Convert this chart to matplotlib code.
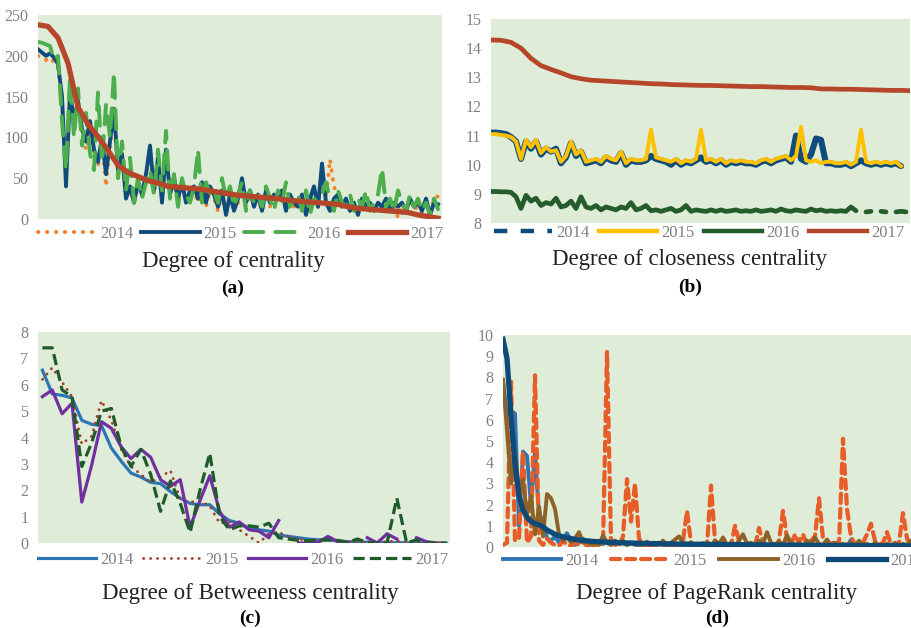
import numpy as np
import matplotlib
matplotlib.use("Agg")
from matplotlib import pyplot as plt
from matplotlib.lines import Line2D

plt.rcParams['font.family'] = ['Liberation Serif', 'DejaVu Serif']

years = ["2014", "2015", "2016", "2017"]
bg = "#dfecd8"
grey = "#808080"

# ---- (a) degree of centrality ----
a_2014 = [200, 198, 195, 198, 192, 185, 145, 55, 150, 115,
          140, 105, 85, 110, 80, 65, 95, 40, 90, 125,
          55, 75, 30, 35, 20, 40, 28, 50, 85, 30,
          70, 25, 80, 35, 45, 20, 40, 25, 30, 35,
          20, 40, 15, 35, 25, 10, 30, 10, 25, 15,
          20, 45, 15, 30, 20, 25, 10, 30, 15, 25,
          20, 30, 10, 25, 15, 20, 25, 10, 20, 35,
          15, 60, 25, 73, 40, 25, 15, 20, 10, 15,
          8, 20, 12, 18, 10, 15, 12, 20, 8, 15,
          2, 18, 10, 22, 12, 15, 8, 20, 5, 25, 28]
a_2015 = [208, 204, 200, 203, 198, 190, 150, 40, 155, 120,
          145, 110, 95, 120, 85, 70, 100, 55, 95, 135,
          60, 80, 25, 40, 20, 45, 30, 55, 90, 35,
          75, 20, 85, 30, 50, 25, 45, 20, 35, 40,
          25, 45, 20, 40, 30, 15, 35, 5, 30, 10,
          25, 50, 20, 35, 15, 30, 10, 35, 20, 30,
          25, 35, 10, 30, 20, 15, 30, 5, 25, 40,
          15, 68, 20, 10, 25, 30, 15, 25, 10, 20,
          5, 25, 15, 20, 10, 20, 15, 25, 10, 20,
          15, 20, 10, 25, 15, 20, 10, 25, 5, 20, 18]
a_2016 = [217, 216, 214, 212, 195, 200, 120, 60, 175, 100,
          160, 90, 130, 80, 60, 155, 70, 140, 100, 180,
          50, 95, 35, 75, 20, 50, 25, 45, 60, 30,
          85, 35, 108, 25, 55, 15, 50, 30, 20, 40,
          85, 20, 45, 30, 35, 20, 50, 25, 40, 15,
          30, 45, 10, 35, 20, 30, 15, 40, 25, 10,
          35, 20, 45, 15, 25, 30, 10, 35, 5, 25,
          20, 30, 45, 25, 10, 35, 20, 15, 30, 10,
          25, 15, 35, 10, 20, 30, 62, 15, 25, 10,
          35, 20, 10, 30, 15, 25, 10, 20, 5, 25, 12]
a_2017 = [238, 236, 222, 191, 137, 116, 101, 84, 66, 57,
          52, 47, 44, 40, 39, 38, 37, 35, 33, 31,
          29, 28, 27, 26, 25, 23, 22, 21, 20, 19,
          18, 15, 13, 12, 11, 10, 9, 8, 5, 3, 1]

# ---- (b) closeness centrality ----
b_2014 = [11.1, 11.1, 11.08, 11.05, 10.95, 10.8, 10.2, 10.8, 10.55, 10.8,
          10.35, 10.55, 10.45, 10.55, 10.05, 10.25, 10.75, 10.3, 10.45, 10.05,
          10.1, 10.15, 10.05, 10.25, 10.15, 10.1, 10.4, 10.0, 10.15, 10.1,
          10.1, 10.15, 10.3, 10.2, 10.15, 10.1, 10.0, 10.15, 10.0, 10.1,
          10.05, 10.15, 10.25, 10.1, 10.15, 10.05, 10.15, 10.0, 10.1, 10.05,
          10.1, 10.05, 10.05, 10.0, 10.1, 10.15, 10.05, 10.15, 10.2, 10.25,
          10.1, 11.0, 10.2, 10.1, 10.35, 10.9, 10.85, 10.05, 10.05, 10.0,
          10.0, 10.05, 9.95, 10.05, 10.15, 10.05, 10.0, 10.05, 10.0, 10.05,
          10.0, 10.05, 9.95]
b_2015 = [11.05, 11.05, 11.02, 11.0, 10.95, 10.8, 10.2, 10.85, 10.6, 10.85,
          10.4, 10.6, 10.45, 10.5, 10.1, 10.3, 10.8, 10.35, 10.5, 10.1,
          10.15, 10.2, 10.1, 10.3, 10.2, 10.15, 10.45, 10.05, 10.2, 10.15,
          10.15, 10.2, 11.2, 10.25, 10.2, 10.15, 10.1, 10.2, 10.05, 10.15,
          10.1, 10.2, 11.2, 10.15, 10.2, 10.1, 10.2, 10.05, 10.15, 10.1,
          10.15, 10.1, 10.1, 10.05, 10.15, 10.2, 10.1, 10.2, 10.25, 10.3,
          10.15, 10.3, 11.3, 10.15, 10.1, 10.15, 10.05, 10.1, 10.1, 10.05,
          10.05, 10.1, 10.0, 10.1, 11.2, 10.1, 10.05, 10.1, 10.05, 10.1,
          10.05, 10.1, 9.95]
b_2016 = [9.08, 9.08, 9.07, 9.07, 9.05, 8.9, 8.5, 8.95, 8.75, 8.85,
          8.6, 8.7, 8.65, 8.85, 8.55, 8.6, 8.75, 8.5, 8.9, 8.55,
          8.5, 8.6, 8.45, 8.55, 8.5, 8.45, 8.55, 8.5, 8.7, 8.45,
          8.5, 8.6, 8.42, 8.45, 8.4, 8.45, 8.5, 8.4, 8.45, 8.6,
          8.4, 8.45, 8.42, 8.4, 8.45, 8.4, 8.45, 8.4, 8.42, 8.45,
          8.4, 8.42, 8.4, 8.45, 8.4, 8.42, 8.45, 8.4, 8.48, 8.42,
          8.4, 8.45, 8.42, 8.4, 8.48, 8.42, 8.45, 8.4, 8.42, 8.4,
          8.42, 8.4, 8.55, 8.42, np.nan, 8.38, 8.4, np.nan, 8.4, 8.38,
          np.nan, 8.38, 8.4, 8.38]
b_2017 = [14.28, 14.27, 14.2, 14.0, 13.65, 13.4, 13.27, 13.15, 13.02, 12.95,
          12.9, 12.88, 12.86, 12.84, 12.82, 12.8, 12.78, 12.77, 12.75, 12.74,
          12.73, 12.72, 12.72, 12.71, 12.7, 12.69, 12.68, 12.68, 12.67, 12.66,
          12.65, 12.65, 12.64, 12.6, 12.6, 12.59, 12.59, 12.58, 12.57, 12.56,
          12.55, 12.55, 12.54]

# ---- (c) betweeness centrality ----
c_2014 = [6.55, 5.65, 5.6, 5.5, 4.65, 4.5, 4.45, 3.6, 3.1, 2.65,
          2.5, 2.3, 2.25, 1.95, 1.7, 1.5, 1.45, 1.45, 1.1, 0.85,
          0.75, 0.55, 0.5, 0.45, 0.3, 0.25, 0.2, 0.15, 0.12, 0.12,
          0.08, 0.05, 0.04, 0.03, 0.02, 0.02, 0.01, 0.01, 0.01, 0.0,
          0.0, 0.0]
c_2015 = [6.2, 6.65, 6.1, 5.55, 3.75, 4.05, 5.4, 4.65, 3.55, 2.9,
          2.6, 2.3, 2.5, 2.75, 1.65, 1.55, 1.6, 1.4, 0.75, 0.8,
          0.5, 0.25, 0.0, 0.35, 0.4, 0.25, 0.15, 0.1, 0.12, 0.15,
          0.1, 0.05, 0.05, 0.03, 0.02, 0.05, 0.08, 0.03, 0.02, 0.05,
          0.02, 0.0]
c_2016 = [5.55, 5.8, 4.9, 5.3, 1.55, 2.95, 4.6, 4.35, 3.65, 3.2,
          3.55, 3.25, 2.4, 2.15, 2.4, 0.6, 1.6, 2.55, 1.2, 0.6,
          0.8, 0.5, 0.45, 0.2, 0.85, np.nan, 0.0, 0.0, 0.02, 0.25,
          0.05, 0.02, np.nan, 0.2, 0.0, 0.35, 0.15, np.nan, 0.2, 0.05,
          0.0, np.nan]
c_2017 = [7.4, 7.4, 5.8, 5.55, 2.9, 3.8, 5.0, 5.1, 3.65, 2.9,
          3.55, 2.6, 1.2, 2.35, 1.5, 0.4, 2.0, 3.4, 1.0, 0.5,
          0.65, 0.65, 0.6, 0.75, 0.2, 0.15, 0.1, 0.08, 0.1, 0.12,
          0.1, 0.02, 0.15, 0.02, 0.0, 0.0, 1.7, 0.0, 0.12, 0.0,
          0.0, 0.0]

# ---- (d) PageRank centrality ----
d_2014 = [7.8, 6.2, 6.4, 6.3, 1.0, 4.5, 4.3, 2.0, 4.4, 1.5,
          1.3, 0.4, 0.3, 0.5, 0.2, 0.4, 0.65, 0.3, 0.1, 0.2,
          0.4, 0.15, 0.3, 0.1, 0.2, 0.15, 0.25, 0.1, 0.3, 0.15,
          0.2, 0.1, 0.2, 0.15, 0.05, 0.2, 0.1, 0.15, 0.05, 0.2,
          0.1, 0.0, 0.1, 0.15, 0.05, 0.1, 0.0, 0.1, 0.05, 0.1,
          0.0, 0.1, 0.05, 0.1, 0.0, 0.08, 0.05, 0.1, 0.0, 0.05,
          0.1, 0.0, 0.05, 0.1, 0.02, 0.08, 0.0, 0.05, 0.1, 0.0,
          0.05, 0.1, 0.02, 0.06, 0.0, 0.08, 0.03, 0.1, 0.0, 0.05,
          0.08, 0.0, 0.05, 0.1, 0.02, 0.06, 0.0, 0.35, 0.1, 0.05,
          0.02, 0.06, 0.0, 0.05, 0.08, 0.0, 0.04, 0.06, 0.0, 0.05,
          0.02, 0.06, 0.0, 0.03]
d_2015 = [0.1, 0.2, 7.8, 0.3, 0.4, 4.5, 0.2, 0.5, 8.1, 0.3,
          0.1, 0.4, 0.2, 0.1, 0.05, 0.3, 0.1, 0.05, 0.2, 0.1,
          0.3, 0.05, 0.1, 0.05, 0.2, 0.1, 9.2, 0.3, 0.1, 0.05,
          0.5, 3.2, 1.2, 3.0, 0.4, 0.1, 0.05, 0.1, 0.05, 0.2,
          0.1, 0.05, 0.1, 0.05, 0.1, 0.3, 1.7, 0.2, 0.05, 0.1,
          0.2, 0.05, 2.9, 0.3, 0.1, 0.05, 0.1, 0.05, 1.0, 0.3,
          0.05, 0.2, 0.1, 0.05, 0.9, 0.2, 0.05, 0.1, 0.05, 0.3,
          1.7, 0.4, 0.1, 0.6, 0.2, 0.6, 0.1, 0.3, 0.5, 2.3,
          0.4, 0.2, 0.1, 0.3, 0.1, 5.1, 1.8, 0.5, 0.1, 0.05,
          0.2, 0.6, 1.1, 0.3, 0.1, 0.2, 0.7, 0.1, 0.05, 0.2,
          1.6, 0.4, 0.1, 0.05]
d_2016 = [7.9, 5.5, 3.0, 4.5, 2.5, 3.2, 1.5, 2.4, 0.6, 1.9,
          0.5, 2.5, 2.3, 1.8, 0.6, 0.3, 0.5, 0.2, 0.4, 0.7,
          0.2, 0.3, 0.1, 0.2, 0.1, 0.55, 0.2, 0.1, 0.3, 0.15,
          0.3, 0.1, 0.2, 0.1, 0.15, 0.05, 0.25, 0.1, 0.2, 0.1,
          0.3, 0.1, 0.2, 0.35, 0.5, 0.2, 0.1, 0.2, 0.05, 0.15,
          0.1, 0.2, 0.05, 0.3, 0.15, 0.45, 0.1, 0.2, 0.05, 0.3,
          0.6, 0.15, 0.2, 0.1, 0.3, 0.15, 0.7, 0.2, 0.1, 0.25,
          0.1, 0.55, 0.2, 0.1, 0.2, 0.05, 0.3, 0.1, 0.45, 0.15,
          0.1, 0.35, 0.1, 0.2, 0.05, 0.15, 0.1, 0.2, 0.05, 0.3,
          0.1, 0.15, 0.05, 0.2, 0.1, 0.05, 0.15, 0.1, 0.2, 0.05,
          0.15, 0.1, 0.3, 0.1]
d_2017 = [9.8, 8.9, 6.2, 3.9, 2.4, 1.75, 1.4, 1.2, 1.1, 1.05,
          0.95, 0.8, 0.7, 0.6, 0.53, 0.48, 0.44, 0.4, 0.36, 0.33,
          0.31, 0.29, 0.27, 0.26, 0.25, 0.24, 0.23, 0.22, 0.21, 0.2,
          0.2, 0.19, 0.19, 0.18, 0.18, 0.17, 0.17, 0.16, 0.16, 0.16,
          0.15, 0.15, 0.15, 0.14, 0.14, 0.14, 0.14, 0.13, 0.13, 0.13,
          0.13, 0.12, 0.12, 0.12, 0.12, 0.12, 0.11, 0.11, 0.11, 0.11,
          0.11, 0.1, 0.1, 0.1, 0.1, 0.1, 0.1, 0.09, 0.09, 0.09,
          0.09, 0.09, 0.09, 0.08, 0.08, 0.08, 0.08, 0.08, 0.08, 0.08,
          0.07, 0.07, 0.07, 0.07, 0.07, 0.07, 0.07, 0.07, 0.07, 0.07,
          0.06, 0.06, 0.06, 0.06, 0.06, 0.06, 0.06, 0.06, 0.06, 0.06,
          0.06, 0.06, 0.06, 0.06]

W, H = 911, 628
fig = plt.figure(figsize=(W / 100, H / 100), dpi=100)


def panel(left, top, right, bottom):
    ax = fig.add_axes([left / W, 1 - bottom / H, (right - left) / W, (bottom - top) / H])
    ax.set_facecolor(bg)
    for s in ax.spines.values():
        s.set_visible(False)
    ax.set_xticks([])
    ax.tick_params(axis='y', length=0, pad=7, labelsize=11.5, labelcolor=grey)
    return ax


def legend(ax, x, y, handles=None, colsp=0.45):
    kw = dict(loc='center left', bbox_to_anchor=(x / W, 1 - y / H), bbox_transform=fig.transFigure,
              ncol=4, frameon=False, fontsize=12, labelcolor=grey, handlelength=3.5,
              handletextpad=0.25, columnspacing=colsp, borderpad=0, borderaxespad=0)
    if handles is not None:
        ax.legend(handles=handles, **kw)
    else:
        ax.legend(**kw)


def captions(title, tag, x, y1, y2):
    fig.text(x / W, 1 - y1 / H, title, ha='center', va='center', fontsize=16.5, color='#222222')
    fig.text(x / W, 1 - y2 / H, tag, ha='center', va='center', fontsize=14, fontweight='bold')


# (a)
ax = panel(38, 15, 442, 219)
ax.plot(np.arange(len(a_2014)), a_2014, color='#f47f2f', lw=2.8, ls=(0, (0.1, 2.2)),
        dash_capstyle='round', label=years[0])
ax.plot(np.arange(len(a_2015)), a_2015, color='#0f4c7c', lw=2.8, label=years[1])
ax.plot(np.arange(len(a_2016)), a_2016, color='#4cae4c', lw=2.8, ls=(0, (5, 3)),
        dash_capstyle='round', label=years[2])
ax.plot(np.linspace(0, 100, len(a_2017)), a_2017, color='#b5462a', lw=3.8, label=years[3])
ax.set_xlim(0, 101)
ax.set_ylim(0, 250)
ax.set_yticks(range(0, 251, 50))
legend(ax, 38, 234)
captions("Degree of centrality", "(a)", 233, 262, 288)

# (b)
ax = panel(491, 19, 910, 223)
b_cols = ['#0f4c7c', '#ffc000', '#245c2c', '#b5462a']
ax.plot(np.arange(len(b_2014)), b_2014, color=b_cols[0], lw=4.4, solid_capstyle='round')
ax.plot(np.arange(len(b_2015)), b_2015, color=b_cols[1], lw=2.8)
ax.plot(np.arange(len(b_2016)), b_2016, color=b_cols[2], lw=3.4, solid_capstyle='round')
ax.plot(np.linspace(0, 84, len(b_2017)), b_2017, color=b_cols[3], lw=3.4)
ax.set_xlim(0, 83.8)
ax.set_ylim(8, 15)
ax.set_yticks(range(8, 16))
b_handles = [Line2D([], [], color=b_cols[0], lw=3.2, ls=(0, (3, 3)), label=years[0]),
             Line2D([], [], color=b_cols[1], lw=3.2, label=years[1]),
             Line2D([], [], color=b_cols[2], lw=3.2, label=years[2]),
             Line2D([], [], color=b_cols[3], lw=3.2, label=years[3])]
legend(ax, 494, 233, b_handles, colsp=0.55)
captions("Degree of closeness centrality", "(b)", 690, 260, 287)

# (c)
ax = panel(38, 332, 450, 543)
xc = np.arange(len(c_2014))
ax.plot(xc, c_2014, color='#2e75b6', lw=2.3, label=years[0])
ax.plot(xc, c_2015, color='#a5402a', lw=2.0, ls=(0, (0.1, 2.4)), dash_capstyle='round', label=years[1])
ax.plot(xc, c_2016, color='#7030a0', lw=2.3, label=years[2])
ax.plot(xc, c_2017, color='#1f5b2a', lw=2.3, ls=(0, (3.5, 1.6)), label=years[3])
ax.set_xlim(-0.45, 41.4)
ax.set_ylim(0, 8)
ax.set_yticks(range(0, 9))
legend(ax, 38, 560, colsp=0.55)
captions("Degree of Betweeness centrality", "(c)", 250, 593, 618)

# (d)
ax = panel(503, 335, 930, 547)
xd = np.arange(len(d_2014))
ax.plot(xd, d_2014, color='#2e75b6', lw=2.8, label=years[0])
ax.plot(xd, d_2015, color='#e85c27', lw=3.0, ls=(0, (2.2, 1.4)), dash_capstyle='round', label=years[1])
ax.plot(xd, d_2016, color='#8c6228', lw=2.8, label=years[2])
ax.plot(xd, d_2017, color='#0d4a78', lw=3.8, label=years[3])
ax.set_xlim(0, 106.75)
ax.set_ylim(0, 10)
ax.set_yticks(range(0, 11))
legend(ax, 503, 561, colsp=0.75)
captions("Degree of PageRank centrality", "(d)", 717, 593, 618)

fig.savefig("out.png", dpi=100)
